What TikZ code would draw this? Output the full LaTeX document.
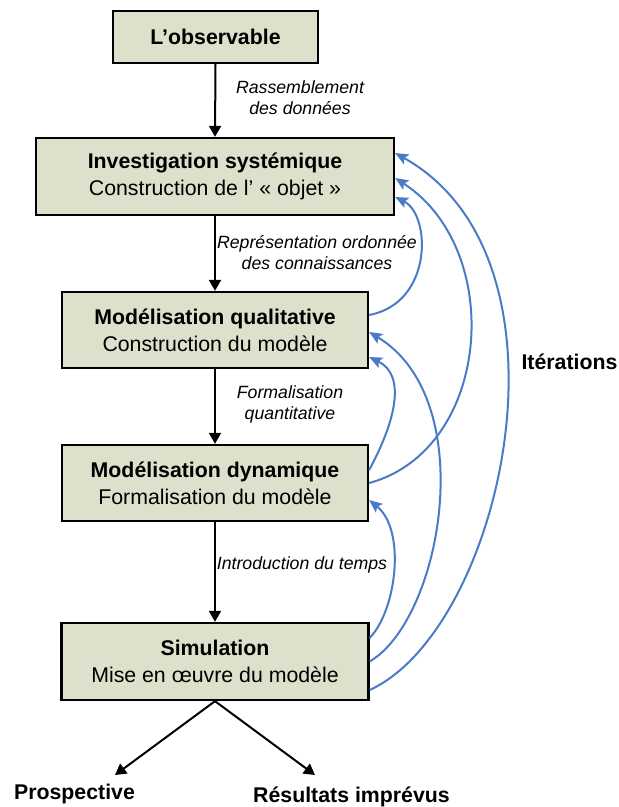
\documentclass[tikz,border=0pt]{standalone}
\usepackage{fontspec}
\setmainfont{Liberation Sans}
\usetikzlibrary{arrows.meta,calc}
\definecolor{boxfill}{HTML}{DDE0CB}
\definecolor{iterblue}{HTML}{4A7BC8}
\begin{document}
\begin{tikzpicture}[x=1pt,y=-1pt,
  stagebox/.style={draw=black,line width=2.3pt,fill=boxfill,inner sep=0pt,
    align=center,font=\fontsize{21.3}{27}\selectfont},
  flowarrow/.style={line width=2pt,-{Triangle[width=12pt,length=11pt]}},
  iterarrow/.style={draw=iterblue,line width=2pt,
    -{Stealth[width=11pt,length=13pt,inset=2.5pt]}},
  steplabel/.style={align=center,font=\fontsize{17.7}{21}\selectfont\itshape},
  outcome/.style={font=\fontsize{21.3}{25}\selectfont\bfseries}]
\useasboundingbox (0,0) rectangle (619,807);

% process stages
\node[stagebox,minimum width=205pt,minimum height=52pt] (b1) at (215.5,37)
  {\bfseries L’observable};
\node[stagebox,minimum width=358pt,minimum height=77pt] (b2) at (215,176.5)
  {\bfseries Investigation systémique\\Construction de l’ « objet »};
\node[stagebox,minimum width=306pt,minimum height=76pt] (b3) at (215,330)
  {\bfseries Modélisation qualitative\\Construction du modèle};
\node[stagebox,minimum width=306pt,minimum height=76pt] (b4) at (215,483)
  {\bfseries Modélisation dynamique\\Formalisation du modèle};
\node[stagebox,minimum width=307pt,minimum height=77pt] (b5) at (215,661.5)
  {\bfseries Simulation\\Mise en œuvre du modèle};

% main flow
\draw[flowarrow] (b1.south) -- (b2.north);
\draw[flowarrow] (b2.south) -- (b3.north);
\draw[flowarrow] (b3.south) -- (b4.north);
\draw[flowarrow] (b4.south) -- (b5.north);

\node[steplabel] (l1) at (300,98) {Rassemblement\\des données};
\node[steplabel] (l2) at (317,253) {Représentation ordonnée\\des connaissances};
\node[steplabel] (l3) at (290,404) {Formalisation\\quantitative};
\node[steplabel] (l4) at (302,565) {Introduction du temps};

% outcomes of the simulation
\node[outcome] (prosp) at (74.5,794) {Prospective};
\node[outcome] (res) at (351.5,797) {Résultats imprévus};
\coordinate (tipP) at (115,775);
\coordinate (tipR) at (315,775);
\draw[flowarrow] (b5.south) -- (tipP);
\draw[flowarrow] (b5.south) -- (tipR);

% feedback loops
\draw[iterarrow] ($(b3.east)+(0,-15)$) .. controls +(64,-12) and +(36,18) .. ($(b2.east)+(0,20.5)$);
\draw[iterarrow] (b4.east) .. controls +(122,-33) and +(111,72) .. ($(b2.east)+(0,1.5)$);
\draw[iterarrow] ($(b5.east)+(0,28.5)$) .. controls +(132,-60) and +(191,107) .. ($(b2.east)+(0,-23.5)$);
\draw[iterarrow] ($(b4.east)+(0,-13)$) .. controls +(27,-50) and +(37,18) .. ($(b3.east)+(0,27)$);
\draw[iterarrow] (b5.east) .. controls +(72,-42) and +(112,68) .. ($(b3.east)+(0,2)$);
\draw[iterarrow] ($(b5.east)+(0,-23.5)$) .. controls +(27,-28) and +(37,30) .. ($(b4.east)+(0,17)$);

\node[outcome] (iter) at (569.5,362) {Itérations};
\end{tikzpicture}
\end{document}
